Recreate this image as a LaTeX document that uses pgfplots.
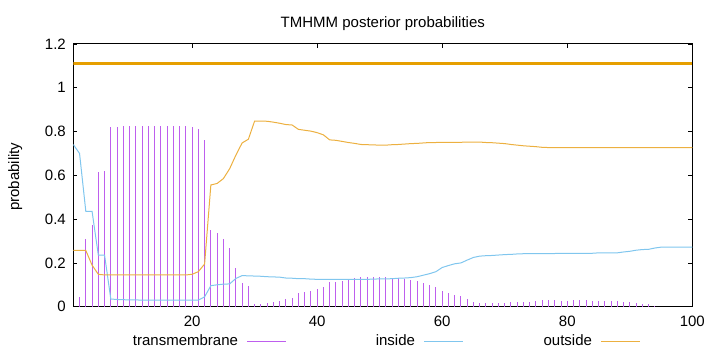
\documentclass[border=0pt]{standalone}
\usepackage{pgfplots}
\pgfplotsset{compat=1.18}
\usepackage{pgfplotstable}
\usepackage{fontspec}
\setmainfont{Liberation Sans}
\definecolor{tmpurple}{HTML}{BE5EEE}
\definecolor{inblue}{HTML}{80C6EE}
\definecolor{outorange}{HTML}{ECB040}
\definecolor{thickorange}{HTML}{E69F00}
\newcommand{\fs}{\fontsize{15bp}{18bp}\selectfont}

\pgfplotstableread{
pos tm in out
1 0 0.741 0.257
2 0.046 0.700 0.257
3 0.307 0.436 0.257
4 0.374 0.436 0.190
5 0.616 0.236 0.148
6 0.619 0.236 0.145
7 0.821 0.035 0.145
8 0.822 0.033 0.145
9 0.824 0.032 0.145
10 0.825 0.031 0.145
11 0.825 0.031 0.145
12 0.826 0.030 0.145
13 0.827 0.030 0.145
14 0.827 0.030 0.145
15 0.827 0.030 0.145
16 0.827 0.030 0.145
17 0.827 0.030 0.145
18 0.826 0.030 0.145
19 0.825 0.030 0.145
20 0.822 0.030 0.148
21 0.810 0.030 0.160
22 0.760 0.045 0.195
23 0.350 0.096 0.556
24 0.338 0.100 0.563
25 0.310 0.103 0.585
26 0.266 0.104 0.630
27 0.178 0.129 0.692
28 0.110 0.142 0.748
29 0.094 0.141 0.765
30 0.012 0.140 0.848
31 0.014 0.139 0.848
32 0.018 0.137 0.847
33 0.020 0.136 0.843
34 0.027 0.135 0.838
35 0.037 0.131 0.832
36 0.040 0.130 0.830
37 0.063 0.128 0.810
38 0.066 0.128 0.806
39 0.072 0.126 0.802
40 0.080 0.125 0.795
41 0.090 0.125 0.785
42 0.113 0.125 0.762
43 0.114 0.125 0.760
44 0.119 0.125 0.755
45 0.125 0.125 0.750
46 0.129 0.125 0.746
47 0.134 0.125 0.741
48 0.135 0.125 0.740
49 0.135 0.126 0.739
50 0.135 0.127 0.738
51 0.135 0.127 0.738
52 0.132 0.128 0.740
53 0.129 0.130 0.741
54 0.126 0.131 0.743
55 0.122 0.133 0.745
56 0.117 0.137 0.746
57 0.108 0.144 0.748
58 0.099 0.151 0.750
59 0.090 0.160 0.750
60 0.070 0.179 0.751
61 0.061 0.188 0.751
62 0.053 0.196 0.751
63 0.049 0.200 0.751
64 0.035 0.213 0.752
65 0.023 0.225 0.752
66 0.017 0.231 0.752
67 0.017 0.233 0.750
68 0.017 0.234 0.749
69 0.017 0.236 0.747
70 0.017 0.238 0.745
71 0.020 0.239 0.741
72 0.021 0.241 0.738
73 0.023 0.242 0.735
74 0.023 0.243 0.733
75 0.026 0.243 0.731
76 0.029 0.243 0.728
77 0.030 0.243 0.727
78 0.029 0.243 0.727
79 0.028 0.244 0.727
80 0.028 0.244 0.727
81 0.029 0.244 0.727
82 0.029 0.244 0.727
83 0.029 0.244 0.727
84 0.028 0.244 0.727
85 0.026 0.246 0.727
86 0.026 0.246 0.727
87 0.026 0.246 0.727
88 0.026 0.246 0.727
89 0.023 0.250 0.727
90 0.020 0.253 0.727
91 0.015 0.258 0.727
92 0.012 0.261 0.727
93 0.012 0.262 0.727
94 0.005 0.268 0.727
95 0 0.272 0.727
96 0 0.272 0.727
97 0 0.272 0.727
98 0 0.272 0.727
99 0 0.272 0.727
100 0 0.272 0.727
}\tmhmm

\begin{document}
\begin{tikzpicture}
\begin{axis}[
  at={(73.3bp,45.3bp)}, anchor=south west,
  scale only axis, width=619bp, height=262.7bp,
  xmin=1, xmax=100, ymin=0, ymax=1.2,
  xtick={20,40,60,80,100},
  ytick={0,0.2,0.4,0.6,0.8,1,1.2},
  tick align=inside, major tick length=4bp,
  axis line style={line width=1bp, black},
  every tick/.style={black, line width=0.8bp},
  tick label style={font=\fs},
  /pgf/number format/assume math mode=true,
  yticklabel style={xshift=-4bp},
  xticklabel style={yshift=-5.5bp},
  legend columns=3,
  legend plot pos=right,
  legend style={draw=none, fill=none, at={(0.0738,-0.1081)}, anchor=north west,
    inner sep=0pt, outer sep=0pt, column sep=9bp, font=\fs,
    nodes={inner sep=0pt, outer sep=0pt}},
]
\addplot[ycomb, color=tmpurple, line width=1bp, mark=none, forget plot] table[x=pos, y=tm] {\tmhmm};
\addplot[color=inblue, line width=1bp, mark=none, forget plot] table[x=pos, y=in] {\tmhmm};
\addplot[color=outorange, line width=1bp, mark=none, forget plot] table[x=pos, y=out] {\tmhmm};
\addplot[color=thickorange, line width=2.7bp, mark=none, forget plot] coordinates {(1,1.11) (100,1.11)};
\addlegendimage{legend image code/.code={\draw[tmpurple, line width=1bp] (0bp,0bp) -- (39bp,0bp);}}
\addlegendentry{\makebox[119bp][r]{transmembrane}}
\addlegendimage{legend image code/.code={\draw[inblue, line width=1bp] (0bp,0bp) -- (39bp,0bp);}}
\addlegendentry{\makebox[119bp][r]{inside}}
\addlegendimage{legend image code/.code={\draw[outorange, line width=1bp] (0bp,0bp) -- (39bp,0bp);}}
\addlegendentry{\makebox[119bp][r]{outside}}
\end{axis}
\node[font=\fs, anchor=base] at (382.8bp,324bp) {TMHMM posterior probabilities};
\node[font=\fs, anchor=base, rotate=90] at (19bp,175.3bp) {probability};
\pgfresetboundingbox
\useasboundingbox (0,0) rectangle (720bp,352bp);
\end{tikzpicture}
\end{document}
